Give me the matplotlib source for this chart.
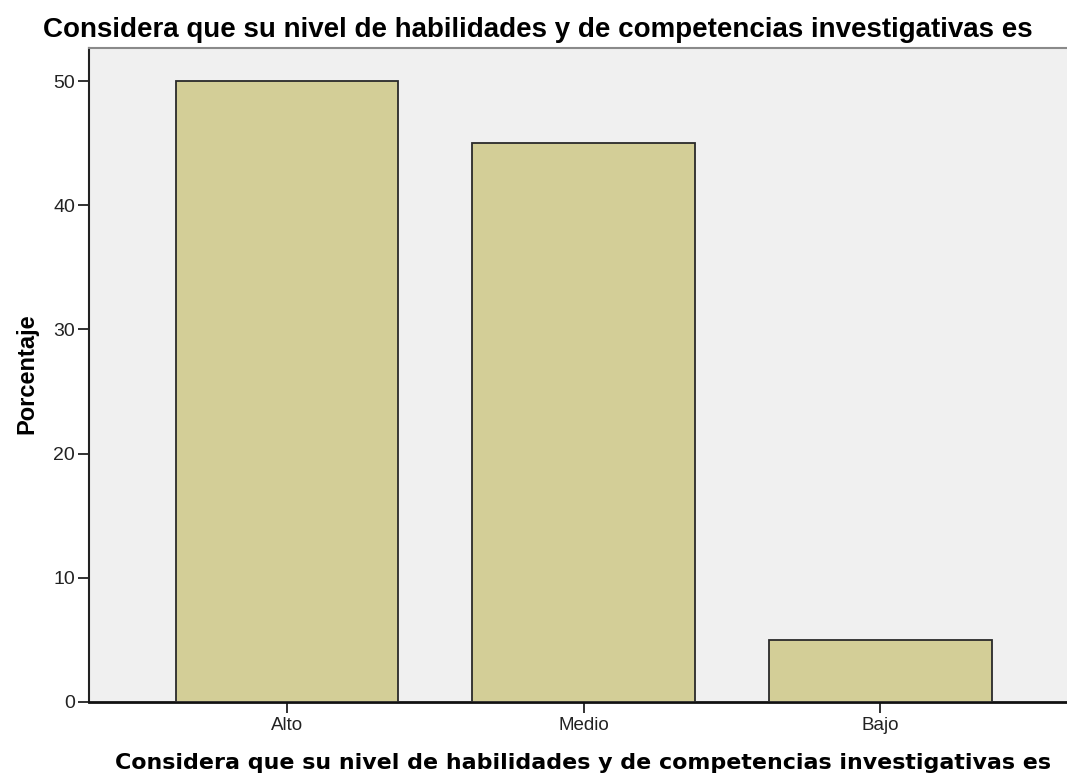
import matplotlib
matplotlib.use("Agg")
import matplotlib.pyplot as plt

categories = ["Alto", "Medio", "Bajo"]
percentages = [50, 45, 5]
yticks = [0, 10, 20, 30, 40, 50]
title = "Considera que su nivel de habilidades y de competencias investigativas es"

plt.rcParams['font.family'] = ['Liberation Sans', 'DejaVu Sans']

W, H = 1067, 773
fig = plt.figure(figsize=(W / 100, H / 100), dpi=100)
left, right, top, bottom = 89, 1067, 48, 702
ax = fig.add_axes([left / W, (H - bottom) / H, (right - left) / W, (bottom - top) / H])
ax.set_facecolor('#F0F0F0')

x = list(range(len(categories)))
ax.bar(x, percentages, width=0.75, color='#D3CE97', edgecolor='#2a2a2a', linewidth=1.3, zorder=3)

ax.set_xlim(-0.667, 2.629)
ax.set_ylim(0, 52.66)
ax.set_xticks(x)
ax.set_xticklabels(categories, fontsize=13.5, color='#222222')
ax.set_yticks(yticks)
ax.set_yticklabels([str(v) for v in yticks], fontsize=14, color='#222222')
ax.tick_params(axis='both', direction='out', length=8, width=1.3, color='#222222', pad=2)
ax.tick_params(axis='x', pad=3)

ax.spines['right'].set_visible(False)
ax.spines['top'].set_color('#8a8a8a')
ax.spines['top'].set_linewidth(1.5)
ax.spines['left'].set_color('#222222')
ax.spines['left'].set_linewidth(1.5)
ax.spines['bottom'].set_color('#111111')
ax.spines['bottom'].set_linewidth(2.0)

fig.text(27 / W, 1 - 374 / H, "Porcentaje", fontsize=17, fontweight='bold',
         rotation=90, ha='center', va='center')
fig.text(538 / W, 1 - 37 / H, title, fontsize=20, fontweight='bold', ha='center', va='baseline')
fig.text(583 / W, 1 - 769 / H, title, fontsize=15.9, fontweight='bold', ha='center', va='baseline',
         family=['DejaVu Sans'])

fig.savefig("out.png", dpi=100)
